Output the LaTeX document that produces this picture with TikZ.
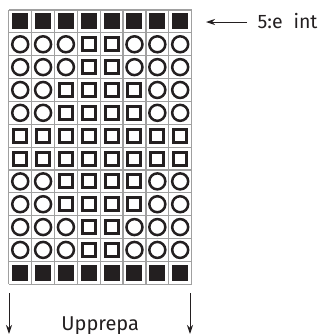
\documentclass[tikz,border=0pt]{standalone}
\usepackage{fontspec}
\newfontfamily\labfont{Fira Sans}
\usetikzlibrary{arrows.meta}
\definecolor{ink}{HTML}{231F20}
\definecolor{gridgray}{HTML}{A0A0A0}
\tikzset{
  symB/.style={rectangle, fill=ink, draw=none, minimum size=16bp, inner sep=0pt},
  symO/.style={circle, draw=ink, line width=2.5bp, minimum size=16bp, inner sep=0pt},
  symS/.style={rectangle, draw=ink, line width=3bp, minimum size=13bp, inner sep=0pt},
  gridline/.style={draw=gridgray, line width=1.2bp},
  arr/.style={draw=ink, line width=1bp, -{Stealth[length=9bp,width=6bp]}},
  lab/.style={font=\labfont\fontsize{19.5bp}{23bp}\selectfont, text=ink, inner sep=0pt},
  biglab/.style={font=\labfont\fontsize{20bp}{24bp}\selectfont, text=ink, inner sep=0pt}
}
\begin{document}
\begin{tikzpicture}[x=1bp,y=-1bp]
\useasboundingbox (0,0) rectangle (324,334);
\def\cs{22.85}
\def\xo{8.8}
\def\yo{10}
% grid lines
\foreach \i in {0,...,8}
  \draw[gridline] ({\xo+\i*\cs},\yo) -- ({\xo+\i*\cs},{\yo+12*\cs});
\foreach \j in {0,...,12}
  \draw[gridline] (\xo,{\yo+\j*\cs}) -- ({\xo+8*\cs},{\yo+\j*\cs});
% symbols
\foreach \r/\pat in {
  0/{B,B,B,B,B,B,B,B},
  1/{O,O,O,S,S,O,O,O},
  2/{O,O,O,S,S,O,O,O},
  3/{O,O,S,S,S,S,O,O},
  4/{O,O,S,S,S,S,O,O},
  5/{S,S,S,S,S,S,S,S},
  6/{S,S,S,S,S,S,S,S},
  7/{O,O,S,S,S,S,O,O},
  8/{O,O,S,S,S,S,O,O},
  9/{O,O,O,S,S,O,O,O},
  10/{O,O,O,S,S,O,O,O},
  11/{B,B,B,B,B,B,B,B}}{
  \foreach \t [count=\c from 0] in \pat
    \node[sym\t] (c-\r-\c) at ({\xo+(\c+0.5)*\cs},{\yo+(\r+0.5)*\cs}) {};
}
% label top right
\node[lab, anchor=base west] (int) at (257.5,28.3) {5:e\hspace{0.55em}int};
\coordinate (intA) at (247,22);
\coordinate (intB) at (206,22);
\draw[arr] (intA) -- (intB);
% repeat arrows
\coordinate (l1) at (9,293);
\coordinate (l2) at (9,334);
\coordinate (r1) at (190,293);
\coordinate (r2) at (190,334);
\draw[arr] (l1) -- (l2);
\draw[arr] (r1) -- (r2);
\node[biglab, anchor=base] (upp) at (100.2,330) {Upprepa};
\end{tikzpicture}
\end{document}
